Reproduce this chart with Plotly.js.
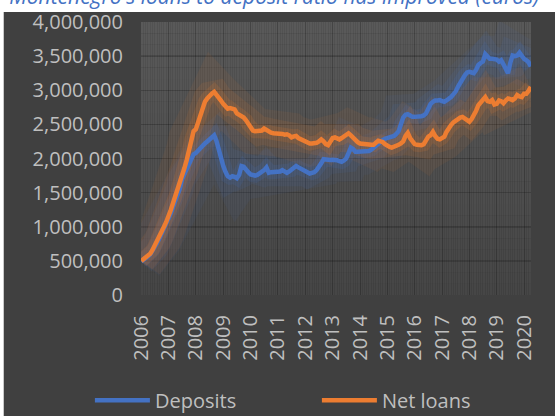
<!DOCTYPE html>
<html>
<head>
<meta charset="utf-8">
<script src="https://cdn.plot.ly/plotly-3.0.1.min.js"></script>
<style>
html,body{margin:0;padding:0;background:#ffffff;}
#chart{width:555px;height:416px;}
</style>
</head>
<body>
<div id="chart"></div>
<script>
// Monthly data, Jan 2006 .. Apr 2020 (euros)
const startYear = 2006;
const monthCount = 172;
const yearTickLabels = ["2006","2007","2008","2009","2010","2011","2012","2013","2014","2015","2016","2017","2018","2019","2020"];
const seriesNames = ["Deposits", "Net loans"];

const deposits = [
 490000,510000,535000,565000,595000,645000,700000,765000,830000,900000,970000,1040000,
 1110000,1200000,1290000,1380000,1470000,1560000,1700000,1780000,1860000,1930000,2000000,2060000,
 2080000,2120000,2160000,2190000,2220000,2250000,2280000,2310000,2340000,2260000,2120000,2000000,
 1890000,1800000,1740000,1720000,1740000,1730000,1710000,1760000,1890000,1880000,1850000,1800000,
 1765000,1755000,1750000,1760000,1780000,1800000,1830000,1870000,1790000,1800000,1800000,1800000,
 1805000,1810000,1830000,1810000,1790000,1810000,1830000,1860000,1890000,1870000,1850000,1830000,
 1800000,1780000,1780000,1790000,1800000,1830000,1870000,1930000,1990000,1980000,1980000,1977000,
 1980000,1980000,1975000,1960000,1950000,1970000,2000000,2080000,2160000,2140000,2100000,2100000,
 2100000,2100000,2100000,2105000,2110000,2130000,2160000,2190000,2220000,2250000,2270000,2290000,
 2300000,2310000,2310000,2330000,2360000,2400000,2500000,2600000,2640000,2650000,2630000,2610000,
 2610000,2610000,2615000,2620000,2630000,2660000,2730000,2800000,2830000,2850000,2850000,2855000,
 2840000,2830000,2850000,2870000,2900000,2940000,2980000,3050000,3120000,3170000,3220000,3260000,
 3270000,3260000,3250000,3300000,3370000,3400000,3420000,3530000,3480000,3460000,3460000,3460000,
 3450000,3420000,3440000,3380000,3320000,3250000,3400000,3510000,3500000,3510000,3550000,3500000,
 3460000,3440000,3410000,3350000
];

const netLoans = [
 500000,525000,545000,575000,605000,660000,720000,790000,860000,930000,1000000,1070000,
 1150000,1250000,1345000,1440000,1545000,1640000,1750000,1860000,1980000,2120000,2280000,2400000,
 2430000,2530000,2650000,2740000,2830000,2880000,2920000,2950000,2975000,2940000,2890000,2850000,
 2800000,2760000,2730000,2740000,2730000,2720000,2660000,2640000,2620000,2600000,2560000,2500000,
 2440000,2410000,2400000,2400000,2400000,2410000,2440000,2420000,2390000,2380000,2370000,2370000,
 2360000,2355000,2360000,2350000,2355000,2340000,2310000,2325000,2330000,2300000,2285000,2270000,
 2250000,2230000,2220000,2220000,2220000,2230000,2250000,2280000,2250000,2210000,2196000,2250000,
 2300000,2310000,2290000,2280000,2300000,2320000,2350000,2370000,2340000,2300000,2270000,2240000,
 2220000,2220000,2210000,2210000,2205000,2200000,2200000,2230000,2260000,2250000,2240000,2210000,
 2180000,2170000,2160000,2170000,2190000,2200000,2220000,2250000,2330000,2375000,2300000,2240000,
 2210000,2200000,2195000,2195000,2210000,2260000,2320000,2340000,2390000,2330000,2290000,2280000,
 2300000,2320000,2390000,2450000,2490000,2530000,2560000,2580000,2600000,2610000,2590000,2560000,
 2540000,2580000,2630000,2700000,2780000,2820000,2855000,2900000,2840000,2830000,2855000,2790000,
 2800000,2850000,2840000,2810000,2850000,2880000,2870000,2855000,2880000,2930000,2910000,2900000,
 2950000,2950000,2990000,3050000
];

// month categories
const months = [];
for (let k = 0; k < monthCount; k++) {
  const y = startYear + Math.floor(k / 12);
  const m = (k % 12) + 1;
  months.push(y + "-" + String(m).padStart(2, "0") + "-01");
}
const yearTicks = yearTickLabels.map(s => s + "-01-01");

const BLUE = "#4472C4", ORANGE = "#ED7D31";
const FONT = "Open Sans, Noto Sans, sans-serif";
const TXT = "#bfbfbf";

function glow(y, color, w, op) {
  return {x: months, y: y, type: "scatter", mode: "lines", hoverinfo: "skip",
    showlegend: false, opacity: op, line: {color: color, width: w}};
}

const traces = [
  glow(deposits, BLUE, 46, 0.07), glow(deposits, BLUE, 28, 0.10), glow(deposits, BLUE, 14, 0.15),
  glow(netLoans, ORANGE, 46, 0.07), glow(netLoans, ORANGE, 28, 0.10), glow(netLoans, ORANGE, 14, 0.15),
  {x: months, y: deposits, name: seriesNames[0], type: "scatter", mode: "lines", legend: "legend",
   line: {color: BLUE, width: 4.5}},
  {x: months, y: netLoans, name: seriesNames[1], type: "scatter", mode: "lines", legend: "legend2",
   line: {color: ORANGE, width: 4.5}}
];

// background decoration: dark chart area + vertical gradient inside plot area
const shapes = [{type: "rect", xref: "paper", yref: "paper", x0: -0.352, x1: 1.07, y0: -0.45, y1: 1.037,
  fillcolor: "#404040", line: {width: 0}, layer: "below"}];
const nb = 24;
for (let b = 0; b < nb; b++) {
  const t = b / (nb - 1);
  const c = Math.round(0x46 + (0x59 - 0x46) * t);
  shapes.push({type: "rect", xref: "paper", yref: "paper", x0: 0, x1: 1, y0: b / nb, y1: (b + 1) / nb,
    fillcolor: "rgb(" + c + "," + c + "," + c + ")", line: {width: 0}, layer: "below"});
}

function legendAt(xfrac) {
  return {orientation: "h", xref: "container", yref: "container", x: xfrac, xanchor: "left",
    y: 0.038, yanchor: "middle", font: {family: FONT, size: 20, color: TXT},
    bgcolor: "rgba(0,0,0,0)", itemwidth: 55};
}

const layout = {
  width: 555, height: 416,
  margin: {l: 141, r: 24, t: 22, b: 121},
  paper_bgcolor: "#ffffff",
  plot_bgcolor: "rgba(0,0,0,0)",
  font: {family: FONT, color: TXT, size: 20},
  title: {text: "Montenegro's loans to deposit ratio has improved (euros)",
    font: {family: FONT, size: 21, color: "#4472C4", style: "italic"},
    xref: "container", yref: "container", x: 0.494, xanchor: "center", y: 0.99, yanchor: "bottom",
    pad: {t: 0, b: 0}},
  showlegend: true,
  legend: legendAt(0.162),
  legend2: legendAt(0.571),
  xaxis: {type: "date", range: ["2005-12-29", "2020-04-03"],
    tickvals: yearTicks, ticktext: yearTickLabels, tickangle: -90,
    tickfont: {family: FONT, size: 20, color: TXT}, ticks: "", ticklabelstandoff: 15,
    showgrid: true, gridcolor: "rgba(0,0,0,0.16)", gridwidth: 1,
    minor: {dtick: "M1", tick0: "2006-01-01", showgrid: true, gridcolor: "rgba(0,0,0,0.08)", gridwidth: 1},
    showline: false, zeroline: false, fixedrange: true},
  yaxis: {range: [0, 4000000], dtick: 500000, tick0: 0, tickformat: ",d",
    tickfont: {family: FONT, size: 20, color: TXT}, ticks: "", ticklabelstandoff: 17,
    showgrid: true, gridcolor: "rgba(0,0,0,0.16)", gridwidth: 1.5,
    zeroline: false, showline: false, fixedrange: true},
  shapes: shapes
};

Plotly.newPlot("chart", traces, layout, {staticPlot: true, displayModeBar: false});
</script>
</body>
</html>
